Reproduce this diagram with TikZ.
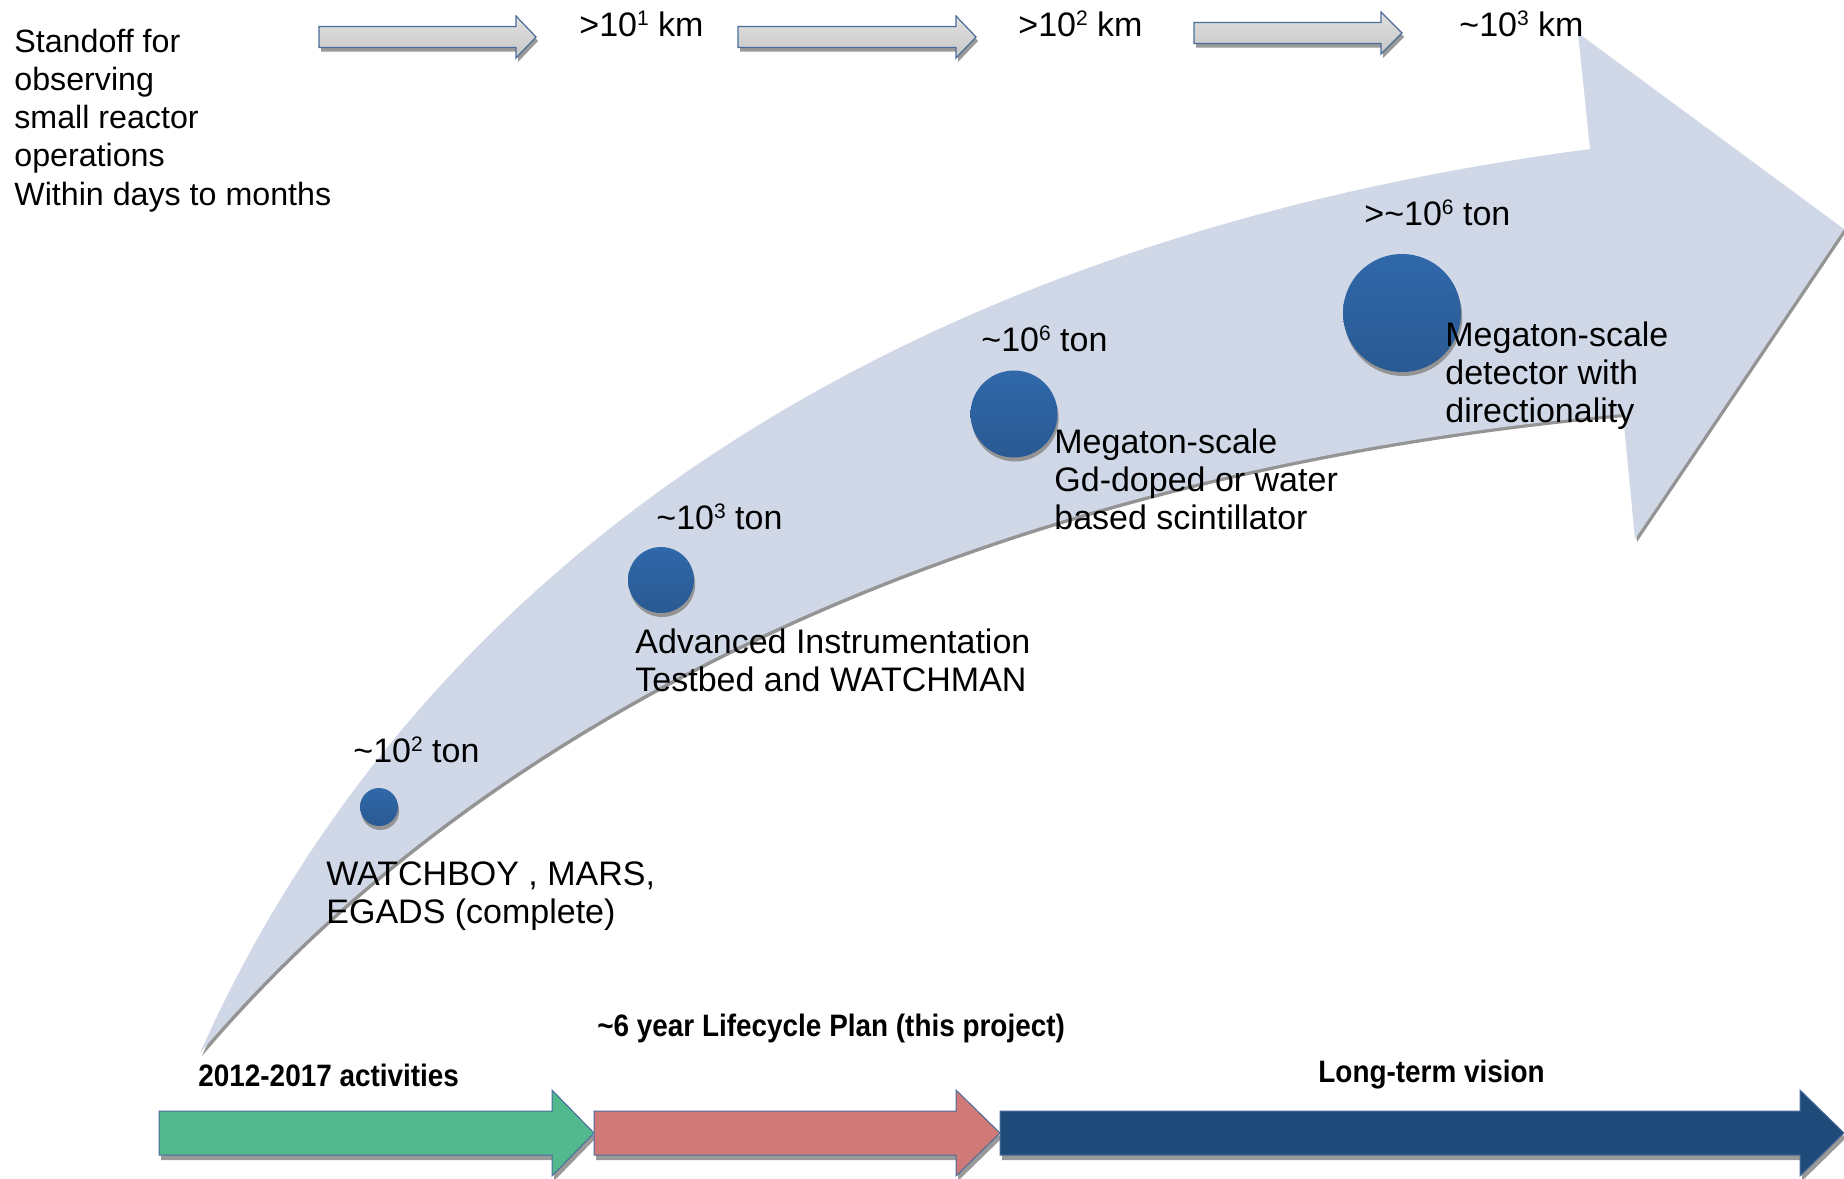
\documentclass[tikz,border=0pt]{standalone}
\usepackage{fontspec}
\setmainfont{Liberation Sans}
\newfontfamily\narrowsans[FakeStretch=0.9]{Liberation Sans}
\usepackage{tikz}
\usetikzlibrary{shadows}
\definecolor{bandfill}{HTML}{D0D8E8}
\definecolor{detblue}{HTML}{3068AA}
\definecolor{edgeblue}{HTML}{4A6C9B}
\definecolor{phasegreen}{HTML}{52B88E}
\definecolor{phasered}{HTML}{CF7A76}
\definecolor{phaseblue}{HTML}{1F4B7B}
\newcommand\supdigit[1]{\raisebox{5.4pt}{\fontsize{10.5}{11}\selectfont#1}}

\begin{document}
\begin{tikzpicture}[x=0.5pt,y=-0.5pt,
    lbl/.style={anchor=base west,inner sep=0pt,align=left,font=\fontsize{17}{18.8}\selectfont},
    phase/.style={anchor=base west,inner sep=0pt,font=\narrowsans\bfseries\fontsize{15.5}{18}\selectfont},
    det/.style={circle,inner sep=0pt,top color=detblue,bottom color=detblue!86!black,
        drop shadow={shadow xshift=0.6pt,shadow yshift=-2pt,fill=black!42,opacity=1}},
    rangearrow/.style={draw=edgeblue,line width=0.6pt,top color=black!12,bottom color=black!22,
        drop shadow={shadow xshift=1pt,shadow yshift=-2pt,fill=black!40,opacity=1}},
    band/.style={fill=bandfill,drop shadow={shadow xshift=1pt,shadow yshift=-1.5pt,fill=black!42,opacity=1}},
    timeline/.style={draw=edgeblue,line width=0.5pt,drop shadow={shadow xshift=1pt,shadow yshift=-2.5pt,fill=black!40,opacity=1}}]

                \useasboundingbox (0,0) rectangle (1844,1179);

                \fill [band] (200,1053) .. controls (420,560) and (900,240) .. (1590,149) -- (1578,33) -- (1844,229) -- (1635,539) -- (1623,414) .. controls (1000,470) and (500,700) .. (200,1053) -- cycle;

                \foreach \xa/\xb/\xc/\ym in {319/516/536/37, 738/956/976/37, 1194/1381/1402/33}
                    \draw [rangearrow] (\xa,\ym-10.5) -- (\xb,\ym-10.5) -- (\xb,\ym-21) -- (\xc,\ym) -- (\xb,\ym+21) -- (\xb,\ym+10.5) -- (\xa,\ym+10.5) -- cycle;

                \foreach \xa/\xb/\xc/\col in {159/552/594/phasegreen, 594/956/1000/phasered, 1000/1800/1844/phaseblue}
                    \draw [timeline, fill=\col] (\xa,1111) -- (\xb,1111) -- (\xb,1090) -- (\xc,1133) -- (\xb,1176) -- (\xb,1155) -- (\xa,1155) -- cycle;

                \node [det, minimum size=19pt] (detA) at (379,807) {};
                \node [det, minimum size=33pt] (detB) at (661,580) {};
                \node [det, minimum size=43.5pt] (detC) at (1014,414) {};
                \node [det, minimum size=59pt] (detD) at (1402,313) {};

                \node [lbl, font=\fontsize{16.1}{19.1}\selectfont] (standoff) at (14,205) {Standoff for\\observing\\small reactor\\operations\\Within days to months};

                \node [lbl] (kmA) at (579,36) {>10\supdigit{1} km};
                \node [lbl] (kmB) at (1018,36) {>10\supdigit{2} km};
                \node [lbl] (kmC) at (1459,36) {\textasciitilde10\supdigit{3} km};

                \node [lbl] (tonA) at (353,762) {\textasciitilde10\supdigit{2} ton};
                \node [lbl] (tonB) at (656,529) {\textasciitilde10\supdigit{3} ton};
                \node [lbl] (tonC) at (981,351) {\textasciitilde10\supdigit{6} ton};
                \node [lbl] (tonD) at (1364,225) {>\textasciitilde10\supdigit{6} ton};

                \node [lbl] (descA) at (326,923) {WATCHBOY , MARS,\\EGADS (complete)};
                \node [lbl] (descB) at (635,691) {Advanced Instrumentation\\Testbed and WATCHMAN};
                \node [lbl] (descC) at (1054,529) {Megaton-scale\\Gd-doped or water\\based scintillator};
                \node [lbl] (descD) at (1445,422) {Megaton-scale\\detector with\\directionality};

                \node [phase] (phaseA) at (198,1086) {2012-2017 activities};
                \node [phase] (phaseB) at (597,1036) {\textasciitilde6 year Lifecycle Plan (this project)};
                \node [phase] (phaseC) at (1318,1082) {Long-term vision};

\end{tikzpicture}
\end{document}
